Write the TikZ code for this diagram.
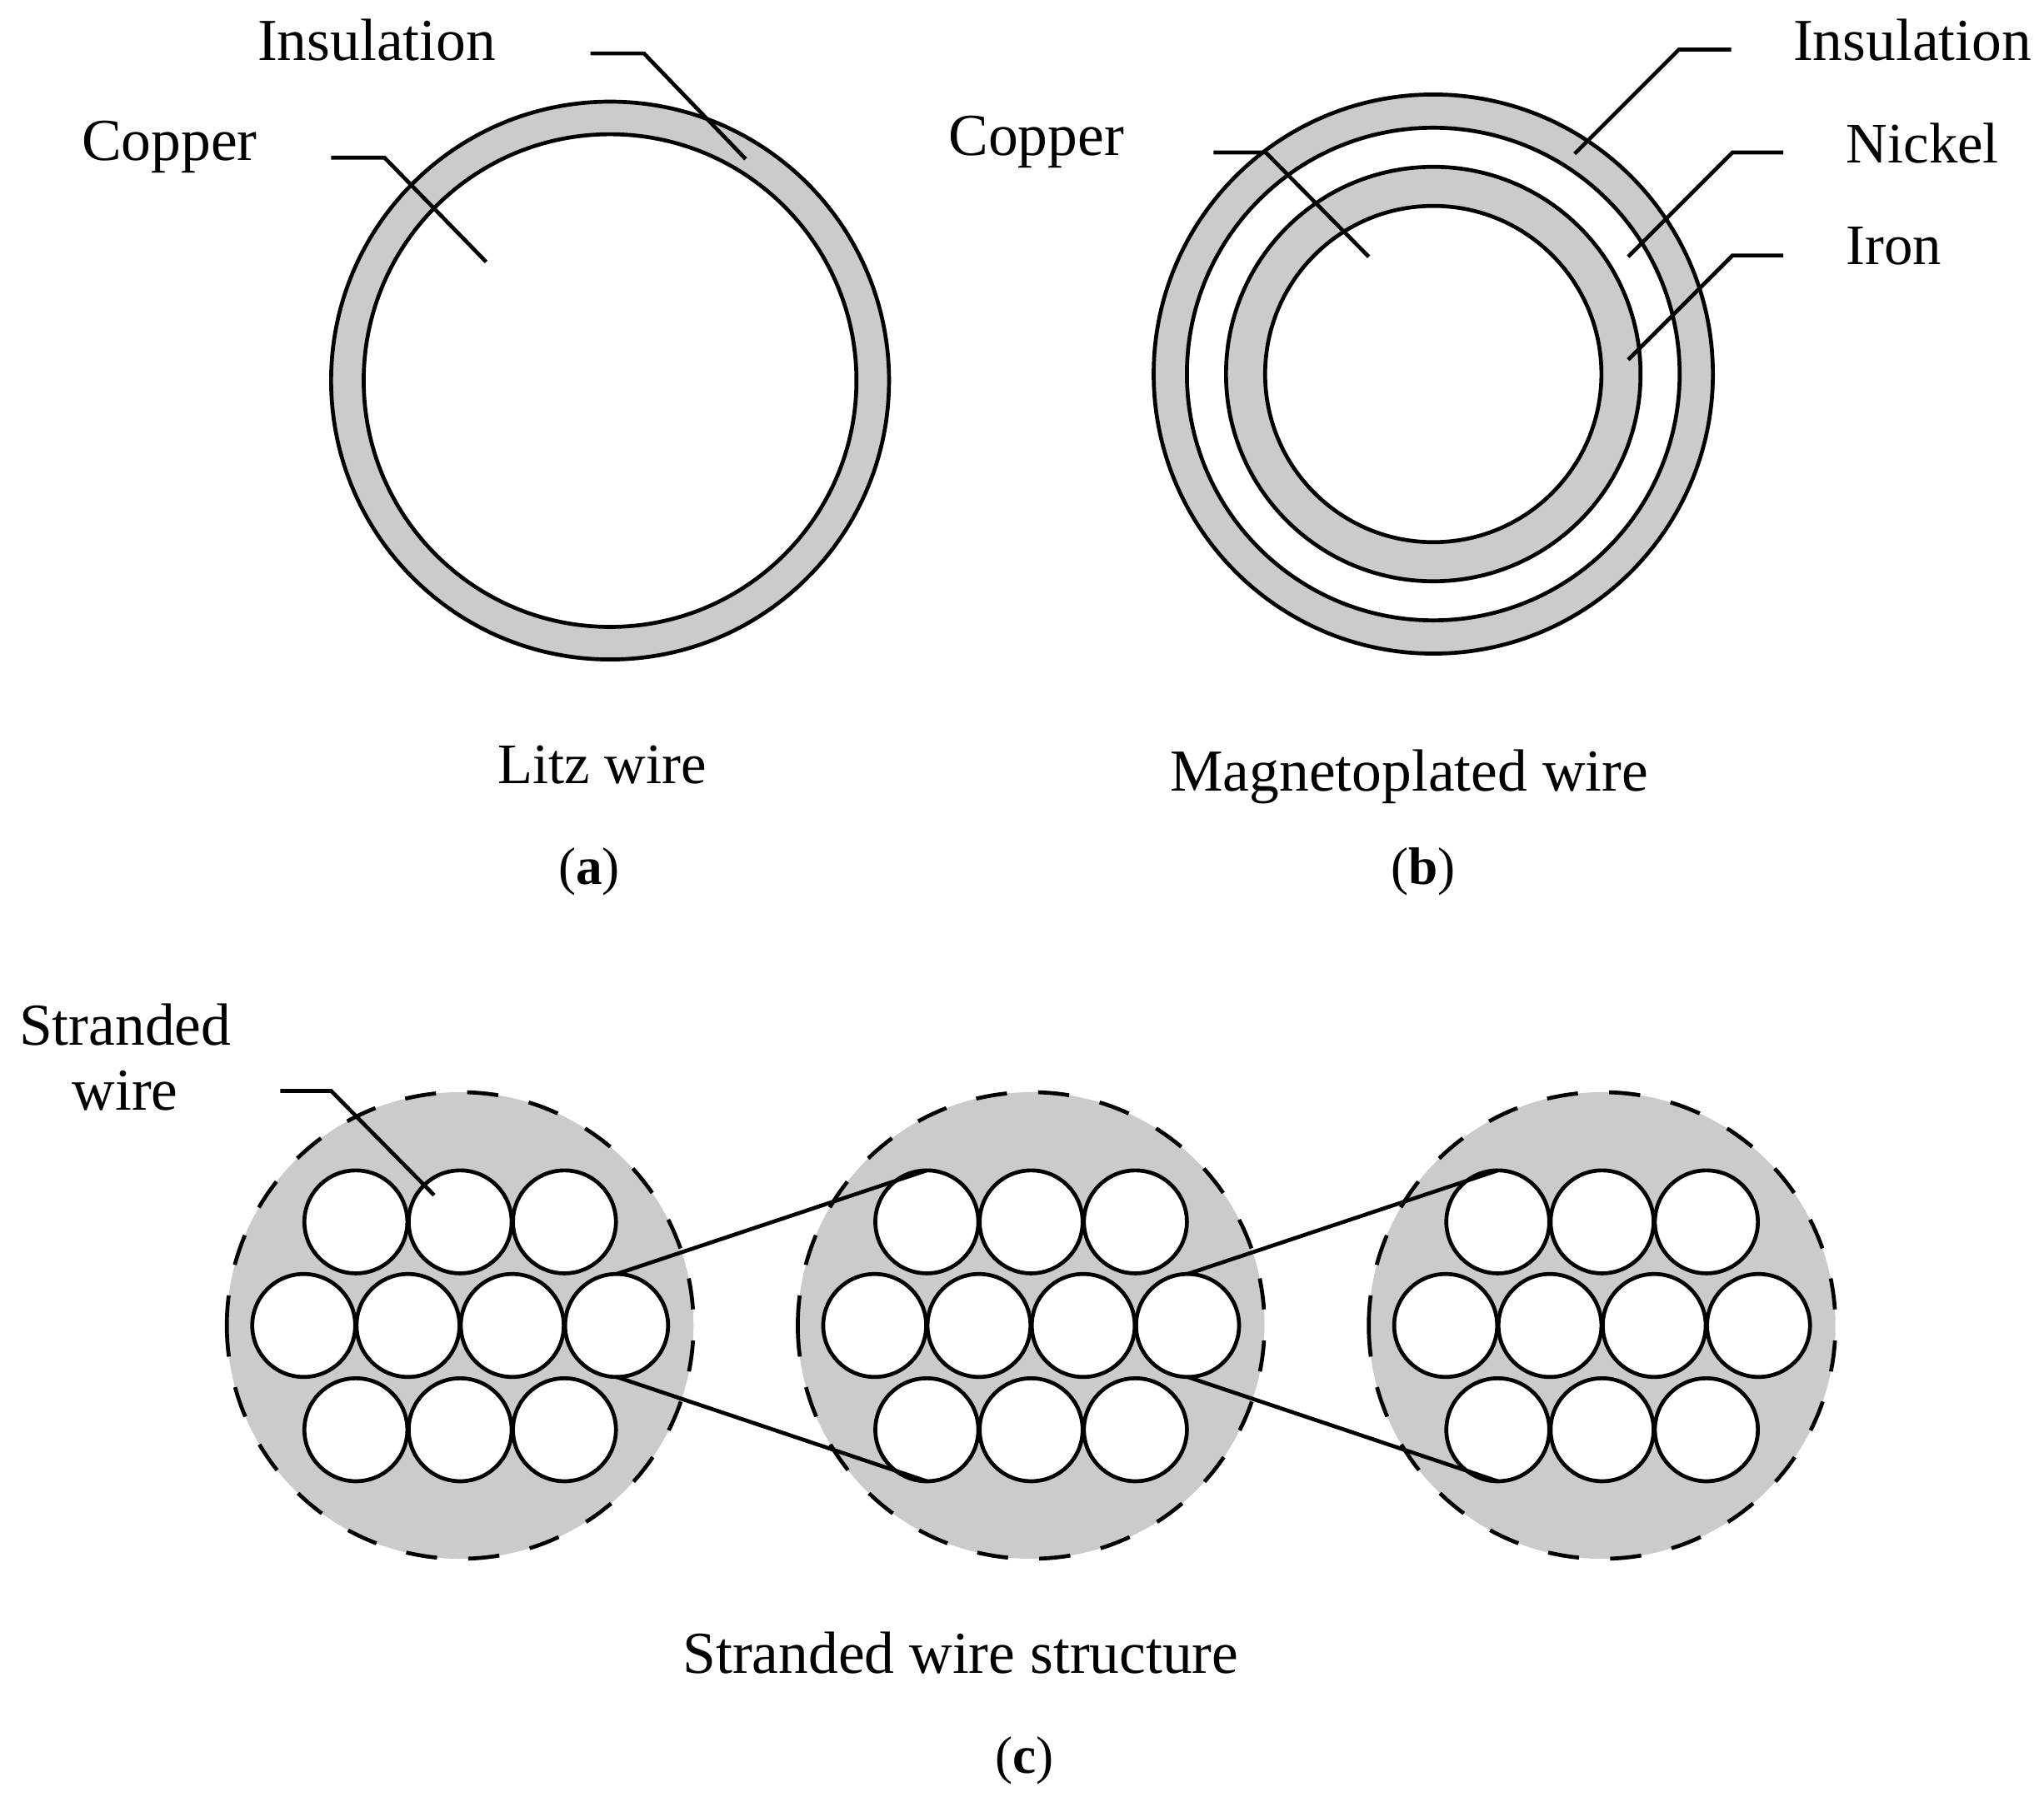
\documentclass[tikz,border=0pt]{standalone}
\usepackage{fontspec}
\setmainfont{Liberation Serif}
\usepackage{tikz}
\usetikzlibrary{positioning}
\definecolor{ringgray}{RGB}{203,203,203}
\tikzset{
  ring/.style={circle,draw=black,line width=0.6mm,inner sep=0pt,outer sep=0pt,minimum size=#1*0.4mm},
  strand/.style={ring=39.5,fill=white},
  bundle/.style={ring=179,fill=ringgray,rotate=180,dash pattern=on 4.79mm off 4.79mm},
  lbl/.style={font=\fontsize{26}{28.45}\selectfont,inner sep=0pt,align=center},
  lbls/.style={lbl,font=\fontsize{25}{28.45}\selectfont},
  lead/.style={line width=0.6mm,line join=miter},
}
\begin{document}
\begin{tikzpicture}[x=0.2mm,y=-0.2mm]
  \useasboundingbox (0,0) rectangle (1568,1382);
  % -- litz wire --
  \node[ring=214,fill=ringgray] (litzout) at (468,292) {};
  \node[ring=189,fill=white] (litzin) at (468,292) {};
  % -- magnetoplated wire --
  \node[ring=214.5,fill=ringgray] (insb) at (1099.5,287) {};
  \node[ring=189,fill=white] (nib) at (1099.5,287) {};
  \node[ring=159,fill=ringgray] (feb) at (1099.5,287) {};
  \node[ring=129,fill=white] (cub) at (1099.5,287) {};
  % -- stranded bundles, each with rows of 3, 4 and 3 strands --
  \foreach \cx/\p in {353/a,791/b,1229/c}{
    \node[bundle] (\p) at (\cx,1017) {};
    \foreach \i/\dx in {1/-80,2/0,3/80}{
      \node[strand] (\p-1-\i) at (\cx+\dx,937.5) {};
      \node[strand] (\p-3-\i) at (\cx+\dx,1097) {};
    }
    \foreach \i/\dx in {1/-120,2/-40,3/40,4/120}{
      \node[strand] (\p-2-\i) at (\cx+\dx,1017) {};
    }
  }
  % -- labels --
  \node[lbl] (insa) at (289,31) {Insulation};
  \node[lbl] (cua) at (130,113) {Copper};
  \node[lbl] (cubl) at (795,109) {Copper};
  \node[lbl] (insbl) at (1467,31) {Insulation};
  \node[lbls,anchor=west] (nibl) at (1416,110) {Nickel};
  \node[lbls,anchor=west] (febl) at (1416,189) {Iron};
  \node[lbl] (strl) at (96,811) {Stranded\\wire};
  \node[lbls] (capa) at (462,587) {Litz wire};
  \node[lbl] (capb) at (1081,596) {Magnetoplated wire};
  \node[lbl] (capc) at (737,1268) {Stranded wire structure};
  \node[lbl,font=\fontsize{23}{28}\selectfont] (suba) at (452,669) {(\textbf{a})};
  \node[lbl,font=\fontsize{23}{28}\selectfont] (subb) at (1092,669) {(\textbf{b})};
  \node[lbl,font=\fontsize{23}{28}\selectfont] (subc) at (786,1351) {(\textbf{c})};
  % -- leader ends --
  \coordinate (la0) at (453,41);  \coordinate (la1) at (494,41);  \coordinate (la2) at (572,122);
  \coordinate (ca0) at (254,121); \coordinate (ca1) at (295,121); \coordinate (ca2) at (373,201);
  \coordinate (cb0) at (931,117); \coordinate (cb1) at (971,117); \coordinate (cb2) at (1050,197);
  \coordinate (ib0) at (1328,38); \coordinate (ib1) at (1288,38); \coordinate (ib2) at (1208,118);
  \coordinate (nb0) at (1368,117);\coordinate (nb1) at (1329,117);\coordinate (nb2) at (1249,197);
  \coordinate (fb0) at (1368,196);\coordinate (fb1) at (1329,196);\coordinate (fb2) at (1249,276);
  \coordinate (st0) at (215,837); \coordinate (st1) at (254,837); \coordinate (st2) at (333,917);
  \foreach \l in {la,ca,cb,ib,nb,fb,st}{\draw[lead] (\l0) -- (\l1) -- (\l2);}
  % -- fan lines between neighbouring bundles --
  \foreach \s/\t in {a/b,b/c}{
    \draw[lead] (\s-2-4.north) -- (\t-1-1.north);
    \draw[lead] (\s-2-4.south) -- (\t-3-1.south);
  }
\end{tikzpicture}
\end{document}
